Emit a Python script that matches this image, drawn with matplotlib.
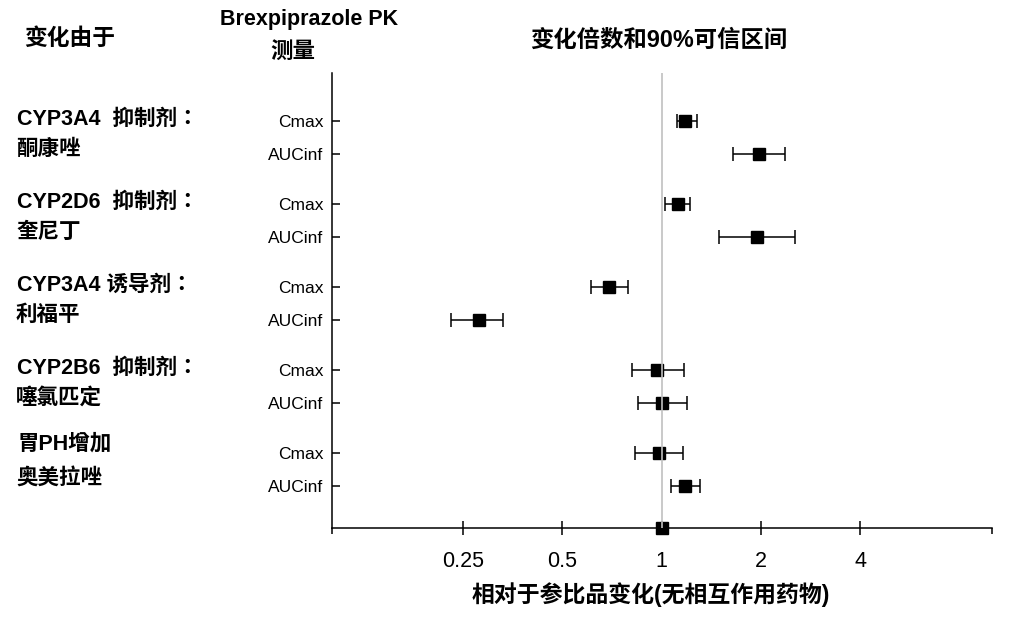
import matplotlib
matplotlib.use('Agg')
import matplotlib.pyplot as plt
import matplotlib.transforms as mtransforms
from matplotlib.ticker import FixedLocator, NullFormatter

plt.rcParams['font.family'] = ['Liberation Sans', 'Noto Sans CJK SC', 'DejaVu Sans']

# interacting drug groups (two text lines each)
cause_line1 = ['CYP3A4  抑制剂：', 'CYP2D6  抑制剂：', 'CYP3A4 诱导剂：',
               'CYP2B6  抑制剂：', '胃PH增加']
cause_line2 = ['酮康唑', '奎尼丁', '利福平', '噻氯匹定', '奥美拉唑']
measures = ['Cmax', 'AUCinf']

# fold change and 90% CI
cmax_ratio = [1.18, 1.12, 0.69, 0.97, 0.98]
cmax_lo = [1.11, 1.02, 0.61, 0.81, 0.83]
cmax_hi = [1.28, 1.22, 0.79, 1.17, 1.16]
auc_ratio = [1.97, 1.94, 0.28, 1.00, 1.18]
auc_lo = [1.64, 1.49, 0.23, 0.85, 1.07]
auc_hi = [2.36, 2.53, 0.33, 1.19, 1.31]
ref_ratio = 1.0

xticks = [0.25, 0.5, 1, 2, 4]
xtick_labels = ['0.25', '0.5', '1', '2', '4']


def main():
    W, H = 1014, 623
    fig = plt.figure(figsize=(W / 100, H / 100), dpi=100)
    left, right, top, bottom = 331.7, 991.7, 73.3, 528.3
    ax = fig.add_axes([left / W, 1 - bottom / H, (right - left) / W, (bottom - top) / H])

    step = 2.5
    n = len(cause_line2)
    ymin, ymax = -1.43, step * (n - 1) + 1 + 1.27

    ys, xs, lo, hi, labels = [], [], [], [], []
    for g in range(n):
        for k, (r, l, h) in enumerate([(cmax_ratio[g], cmax_lo[g], cmax_hi[g]),
                                       (auc_ratio[g], auc_lo[g], auc_hi[g])]):
            ys.append(g * step + k)
            xs.append(r)
            lo.append(r - l)
            hi.append(h - r)
            labels.append(measures[k])

    ax.errorbar(xs, ys, xerr=[lo, hi], fmt='s', ms=8, mfc='black', mec='black',
                ecolor='black', elinewidth=1.1, capsize=4.8, capthick=1.1, zorder=3)
    ax.plot([ref_ratio], [ymax], 's', ms=8, color='black', clip_on=False, zorder=3)
    ax.axvline(1, color='#c0c0c0', lw=1.2, zorder=5)

    ax.set_xscale('log')
    ax.set_xlim(0.1, 10)
    ax.set_ylim(ymax, ymin)
    ax.xaxis.set_major_locator(FixedLocator(xticks))
    ax.set_xticklabels(xtick_labels)
    ax.xaxis.set_minor_locator(FixedLocator([0.1, 10]))
    ax.xaxis.set_minor_formatter(NullFormatter())
    ax.tick_params(axis='x', which='major', direction='inout', length=10, width=1.1,
                   labelsize=15.5, pad=11)
    ax.tick_params(axis='x', which='minor', direction='out', length=4.5, width=1.1)

    ax.set_yticks(ys)
    ax.set_yticklabels(labels)
    ax.tick_params(axis='y', direction='in', length=5.5, width=1.1, pad=6, labelsize=12.5)

    for s in ['top', 'right']:
        ax.spines[s].set_visible(False)
    for s in ['left', 'bottom']:
        ax.spines[s].set_linewidth(1.1)

    # group labels on the left; JP face keeps the full-width colon centred
    trans = mtransforms.blended_transform_factory(fig.transFigure, ax.transData)
    for g in range(n):
        y0 = g * step
        off1, off2 = (-0.05, 0.85) if g < n - 1 else (-0.28, 0.77)
        ax.text(17 / W, y0 + off1, cause_line1[g], transform=trans, fontsize=15.5,
                fontweight='bold', ha='left', va='center',
                family=['Liberation Sans', 'Noto Sans CJK JP'])
        ax.text(16 / W, y0 + off2, cause_line2[g], transform=trans, fontsize=15.5,
                fontweight='bold', ha='left', va='center')

    # headers
    fig.text(24 / W, 1 - 38 / H, '变化由于', fontsize=16.4, fontweight='bold',
             ha='left', va='center')
    fig.text(309 / W, 1 - 19 / H, 'Brexpiprazole PK', fontsize=15.5, fontweight='bold',
             ha='center', va='center')
    fig.text(293 / W, 1 - 52 / H, '测量', fontsize=16.2, fontweight='bold',
             ha='center', va='center')
    fig.text(659 / W, 1 - 40 / H, '变化倍数和90%可信区间', fontsize=16.8, fontweight='bold',
             ha='center', va='center')
    fig.text(651 / W, 1 - 595 / H, '相对于参比品变化(无相互作用药物)', fontsize=16.5,
             fontweight='bold', ha='center', va='center')

    fig.savefig('out.png', dpi=100, facecolor='white')


if __name__ == '__main__':
    main()
